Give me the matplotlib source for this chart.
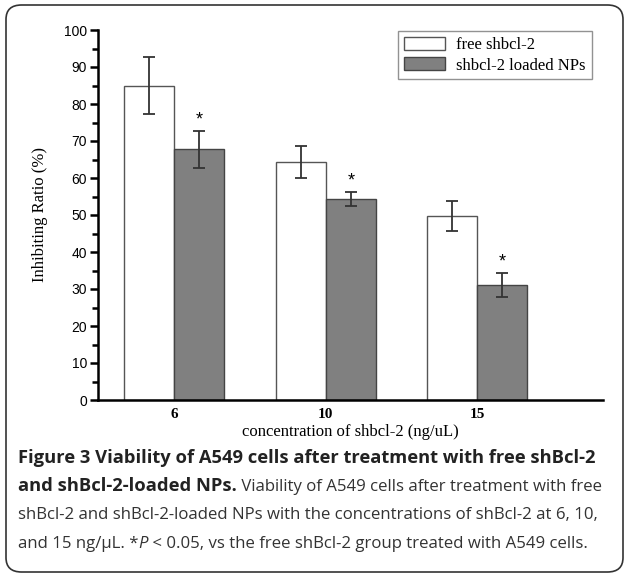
import matplotlib
matplotlib.use("Agg")
import matplotlib.pyplot as plt
import numpy as np
from matplotlib.patches import FancyBboxPatch

categories = ["6", "10", "15"]
free_vals = [85.0, 64.3, 49.8]
free_err = [7.6, 4.3, 4.0]
np_vals = [67.8, 54.3, 31.0]
np_err = [5.0, 1.9, 3.2]
stars = ["*", "*", "*"]

serif = ["Liberation Serif", "DejaVu Serif"]
sans = ["Liberation Sans", "DejaVu Sans"]
cap_font = ["Open Sans", "DejaVu Sans"]

fig = plt.figure(figsize=(6.24, 5.74), dpi=100)
W, H = 624.0, 574.0

# rounded frame round the whole figure panel
frame = FancyBboxPatch((6 / W, 1 - 572 / H), 617 / W, 567 / H,
                       boxstyle="round,pad=0,rounding_size=0.025",
                       transform=fig.transFigure, fill=False,
                       edgecolor="#333333", linewidth=1.2)
fig.patches.append(frame)

ax = fig.add_axes([98 / W, 1 - 400 / H, 505 / W, 370 / H])
x = np.arange(len(categories))
w = 0.33
ekw = dict(ecolor="#333333", elinewidth=1.3, capsize=4, capthick=1.3)
ax.bar(x - w / 2, free_vals, w, yerr=free_err, color="white",
       edgecolor="#555555", linewidth=1.0, error_kw=ekw, label="free shbcl-2")
ax.bar(x + w / 2, np_vals, w, yerr=np_err, color="#808080",
       edgecolor="#444444", linewidth=1.0, error_kw=ekw, label="shbcl-2 loaded NPs")
for i in range(len(categories)):
    ax.text(x[i] + w / 2, np_vals[i] + np_err[i] + 3.0, stars[i], ha="center",
            va="center", fontsize=13, family=sans)

ax.set_xlim(-0.505, 2.83)
ax.set_ylim(0, 100)
ax.set_yticks(range(0, 101, 10))
ax.set_yticks(range(5, 100, 10), minor=True)
ax.set_xticks(x)
ax.set_xticklabels(categories, family=serif, fontweight="bold", fontsize=11)
for lab in ax.get_yticklabels():
    lab.set_family(sans)
    lab.set_fontsize(10)
ax.tick_params(axis="y", which="major", length=6, width=1.8, pad=2)
ax.tick_params(axis="y", which="minor", length=4, width=1.8)
ax.tick_params(axis="x", length=0, pad=6)
for s in ["top", "right"]:
    ax.spines[s].set_visible(False)
for s in ["left", "bottom"]:
    ax.spines[s].set_linewidth(1.8)
ax.set_ylabel("Inhibiting Ratio (%)", family=serif, fontsize=12, labelpad=11)
ax.set_xlabel("concentration of shbcl-2 (ng/uL)", family=serif, fontsize=12,
              labelpad=2)

leg = ax.legend(loc="upper left", bbox_to_anchor=(0.594, 0.998),
                borderaxespad=0, fancybox=False, edgecolor="#777777",
                prop={"family": serif, "size": 12}, handlelength=2.5,
                handleheight=0.85, handletextpad=0.65, borderpad=0.35,
                labelspacing=0.25)
leg.get_frame().set_linewidth(1.0)

# caption
bold_size = 13.2
cap_size = 12.1
fig.text(18 / W, 1 - 458 / H,
         "Figure 3 Viability of A549 cells after treatment with free shBcl-2",
         family=cap_font, fontweight="bold", fontsize=bold_size, va="center",
         color="#222222")
b2 = fig.text(18 / W, 1 - 486 / H, "and shBcl-2-loaded NPs.", family=cap_font,
              fontweight="bold", fontsize=bold_size, va="center",
              color="#222222")
ax.annotate(" Viability of A549 cells after treatment with free",
            xy=(1, 0), xycoords=b2, va="bottom", family=cap_font,
            fontsize=cap_size, color="#333333", annotation_clip=False)
fig.text(18 / W, 1 - 515 / H,
         "shBcl-2 and shBcl-2-loaded NPs with the concentrations of shBcl-2 at 6, 10,",
         family=cap_font, fontsize=cap_size, va="center", color="#333333")
t4 = fig.text(18 / W, 1 - 544 / H, "and 15 ng/\u03bcL. *", family=cap_font,
              fontsize=cap_size, va="center", color="#333333")
t5 = ax.annotate("P", xy=(1, 0), xycoords=t4, va="bottom", family=cap_font,
                 fontsize=cap_size, style="italic", color="#333333",
                 annotation_clip=False)
ax.annotate(" < 0.05, vs the free shBcl-2 group treated with A549 cells.",
            xy=(1, 0), xycoords=t5, va="bottom", family=cap_font,
            fontsize=cap_size, color="#333333", annotation_clip=False)

fig.savefig("out.png", dpi=100)
